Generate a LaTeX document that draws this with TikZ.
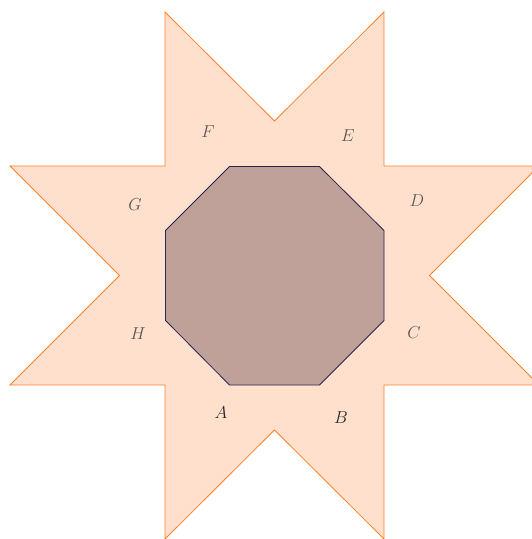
\documentclass[tikz,border=0pt]{standalone}
\begin{document}
\begin{tikzpicture}[x=1pt,y=-1pt,
  lbl/.style={text=black!65,font=\fontsize{18}{20}\selectfont,inner sep=0pt},
  lbld/.style={text=black!85,font=\fontsize{18}{20}\selectfont,inner sep=0pt}]
\definecolor{starfill}{RGB}{255,224,204}
\definecolor{starline}{RGB}{255,128,40}
\definecolor{octfill}{RGB}{192,161,153}
\definecolor{octline}{RGB}{40,36,80}
\useasboundingbox (0,0) rectangle (532,539);
\begin{scope}
\clip (0,0) rectangle (532,539);
\draw[starline,fill=starfill,line width=0.8pt,line join=miter]
  (165,12) -- (274.5,121) -- (384,12) -- (384,166) -- (539,166) -- (429.5,275.5)
  -- (539,385) -- (384,385) -- (384,539) -- (274.5,430) -- (165,539) -- (165,385)
  -- (10,385) -- (119.5,275.5) -- (10,166) -- (165,166) -- cycle;
\end{scope}
\draw[octline,fill=octfill,line width=0.8pt]
  (229.5,166.5) -- (319.5,166.5) -- (384,230.5) -- (384,320.5) -- (319.5,385)
  -- (229.5,385) -- (165.5,320.5) -- (165.5,230.5) -- cycle;
\node[lbld] (A) at (221,413) {$A$};
\node[lbld] (B) at (341,418) {$B$};
\node[lbl] (C) at (414,333) {$C$};
\node[lbl] (D) at (417,201) {$D$};
\node[lbl] (E) at (348,136) {$E$};
\node[lbl] (F) at (208,132) {$F$};
\node[lbl] (G) at (135,205) {$G$};
\node[lbl] (H) at (138,334) {$H$};
\end{tikzpicture}
\end{document}
